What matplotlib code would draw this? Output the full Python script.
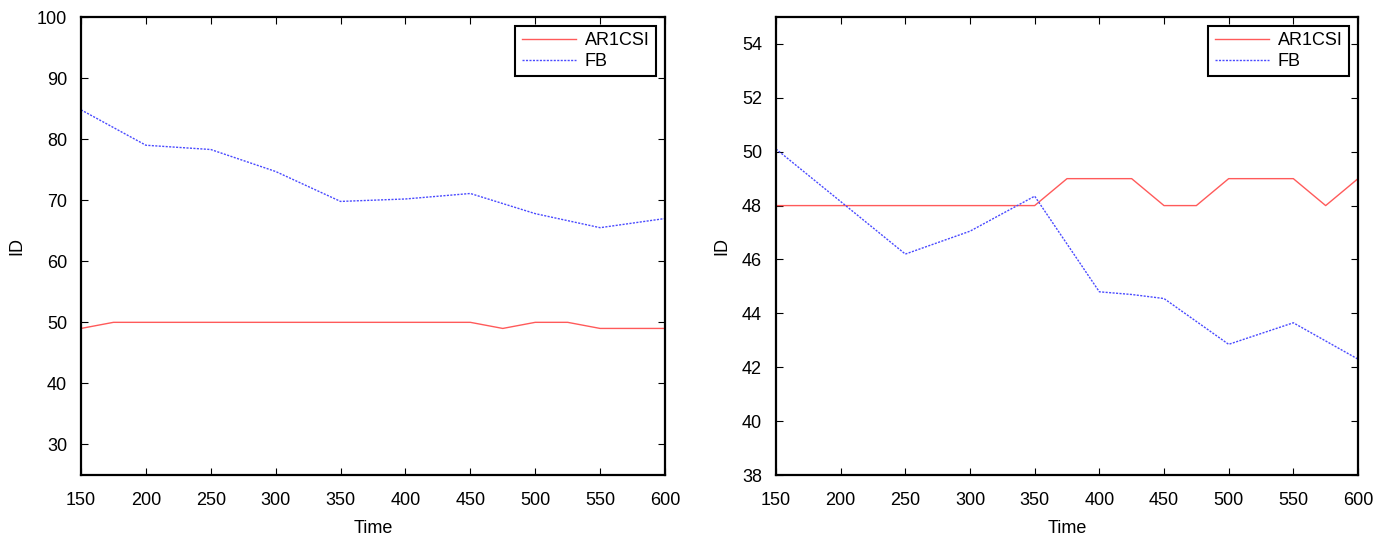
import matplotlib
matplotlib.use("Agg")
import matplotlib.pyplot as plt

plt.rcParams['font.family'] = ['Liberation Sans', 'DejaVu Sans']

# Left panel data
left_ar_x = [150, 175, 200, 225, 250, 275, 300, 325, 350, 375, 400, 425, 450, 475, 500, 525, 550, 575, 600]
left_ar_y = [49, 50, 50, 50, 50, 50, 50, 50, 50, 50, 50, 50, 50, 49, 50, 50, 49, 49, 49]
left_fb_x = [150, 200, 250, 300, 350, 400, 450, 500, 550, 600]
left_fb_y = [84.8, 79.0, 78.3, 74.7, 69.8, 70.2, 71.1, 67.8, 65.5, 67.0]

# Right panel data
right_ar_x = [150, 175, 200, 225, 250, 275, 300, 325, 350, 375, 400, 425, 450, 475, 500, 525, 550, 575, 600]
right_ar_y = [48, 48, 48, 48, 48, 48, 48, 48, 48, 49, 49, 49, 48, 48, 49, 49, 49, 48, 49]
right_fb_x = [150, 250, 300, 350, 400, 425, 450, 500, 550, 600]
right_fb_y = [50.1, 46.2, 47.05, 48.35, 44.8, 44.7, 44.55, 42.85, 43.65, 42.3]

xticks = [150, 200, 250, 300, 350, 400, 450, 500, 550, 600]
left_yticks = [30, 40, 50, 60, 70, 80, 90, 100]
right_yticks = [38, 40, 42, 44, 46, 48, 50, 52, 54]

red = '#ff5a5a'
blue = '#4a4aff'

W, H = 1391, 535
fig = plt.figure(figsize=(W / 100, H / 100), dpi=100)
ax1 = fig.add_axes([81 / W, 1 - 475 / H, (665 - 81) / W, (475 - 17) / H])
ax2 = fig.add_axes([776 / W, 1 - 475 / H, (1358 - 776) / W, (475 - 17) / H])

def style(ax, ylim, yticks):
    ax.set_xlim(150, 600)
    ax.set_ylim(*ylim)
    ax.set_xticks(xticks)
    ax.set_yticks(yticks)
    ax.tick_params(direction='in', top=True, right=True, labelsize=13, length=5, width=0.8)
    ax.tick_params(axis='x', pad=12)
    ax.tick_params(axis='y', pad=10)
    for s in ax.spines.values():
        s.set_linewidth(1.6)
    ax.set_xlabel('Time', fontsize=13, labelpad=8)
    ax.set_ylabel('ID', fontsize=13, labelpad=8)
    leg = ax.legend(loc='upper right', fontsize=13, fancybox=False, framealpha=1,
                    edgecolor='black', borderaxespad=0.5, handlelength=3.0,
                    borderpad=0.35, labelspacing=0.2, handletextpad=0.5)
    leg.get_frame().set_linewidth(1.5)

ax1.plot(left_ar_x, left_ar_y, color=red, lw=1.0, label='AR1CSI')
ax1.plot(left_fb_x, left_fb_y, color=blue, lw=1.0, ls=(0, (1.5, 1)), label='FB')
style(ax1, (25, 100), left_yticks)

ax2.plot(right_ar_x, right_ar_y, color=red, lw=1.0, label='AR1CSI')
ax2.plot(right_fb_x, right_fb_y, color=blue, lw=1.0, ls=(0, (1.5, 1)), label='FB')
style(ax2, (38, 55), right_yticks)

fig.savefig('out.png', dpi=100)
